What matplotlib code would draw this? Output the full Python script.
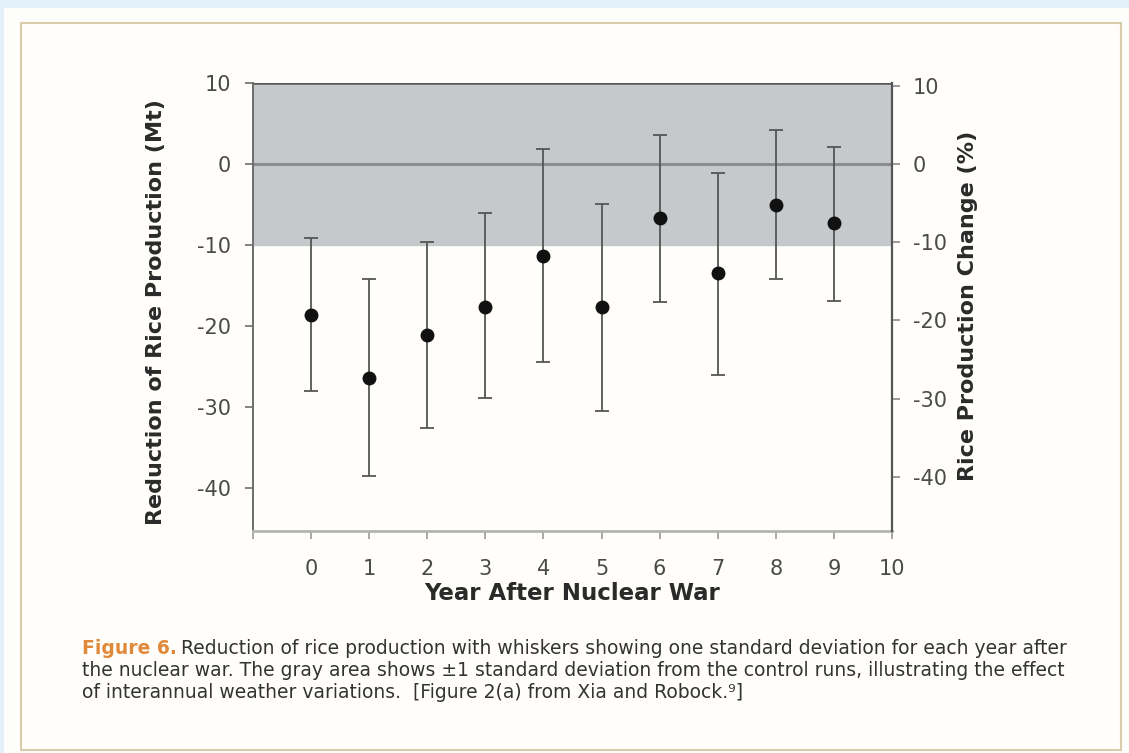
import matplotlib.pyplot as plt
from matplotlib.patches import Rectangle

# data (Mt)
years = [0, 1, 2, 3, 4, 5, 6, 7, 8, 9]
mean = [-18.6, -26.4, -21.1, -17.6, -11.3, -17.7, -6.7, -13.5, -5.1, -7.3]
upper = [-9.1, -14.2, -9.6, -6.1, 1.8, -4.9, 3.6, -1.1, 4.2, 2.1]
lower = [-28.0, -38.5, -32.6, -28.9, -24.4, -30.5, -17.0, -26.0, -14.2, -16.9]
band_low, band_high = -10, 10
left_ticks = [10, 0, -10, -20, -30, -40]
right_ticks = [10, 0, -10, -20, -30, -40]
x_ticks = [0, 1, 2, 3, 4, 5, 6, 7, 8, 9, 10]

caption_1 = ("Reduction of rice production with whiskers showing one standard "
             "deviation for each year after")
caption_2 = ("the nuclear war. The gray area shows \u00b11 standard deviation from "
             "the control runs, illustrating the effect")
caption_3 = "of interannual weather variations.  [Figure 2(a) from Xia and Robock.\u2079]"

plt.rcParams['font.family'] = ['DejaVu Sans']

W, H = 1129, 753
fig = plt.figure(figsize=(W / 100, H / 100), dpi=100)
fig.patch.set_facecolor('#e2f1f8')

# frame of the page
fig.patches.append(Rectangle((4 / W, 0), 1, 1 - 8 / H, transform=fig.transFigure,
                             facecolor='#fdfdfc', edgecolor='none', zorder=-10))
fig.patches.append(Rectangle((21 / W, 1 - 750 / H), (1121 - 21) / W, (750 - 23) / H,
                             transform=fig.transFigure, facecolor='#fffefa',
                             edgecolor='#d9cca8', linewidth=1.5, zorder=-9))

L, R, T, B = 253, 892, 83, 531
ax = fig.add_axes([L / W, 1 - B / H, (R - L) / W, (B - T) / H])
ax.set_facecolor('none')

ax.axhspan(band_low, band_high, color='#c6c9cc', zorder=0)
ax.axhline(0, color='#8c8c8c', linewidth=2.2, zorder=1)
ax.axhline(band_high, color='#555555', linewidth=1.8, zorder=2)

err_low = [m - l for m, l in zip(mean, lower)]
err_high = [u - m for m, u in zip(mean, upper)]
ax.errorbar(years, mean, yerr=[err_low, err_high], fmt='o', color='#111111',
            markersize=9, ecolor='#555555', elinewidth=1.3, capsize=5,
            capthick=1.3, zorder=3)

ax.set_xlim(-1, 10)
ax.set_ylim(-45.3, 10)
ax.set_xticks([-1] + x_ticks)
ax.set_xticklabels([''] + [str(t) for t in x_ticks])
ax.set_yticks(left_ticks)
ax.set_yticklabels([str(t) for t in left_ticks])

ax.spines['top'].set_visible(False)
ax.spines['left'].set_color('#6e6e6e')
ax.spines['left'].set_linewidth(1.4)
ax.spines['bottom'].set_color('#b4b4b4')
ax.spines['bottom'].set_linewidth(2)
ax.spines['right'].set_visible(False)
ax.tick_params(axis='y', direction='out', length=6, width=1.2, color='#6e6e6e',
               labelsize=15, labelcolor='#4a4a4a', pad=10)
ax.tick_params(axis='x', direction='out', length=6, width=1.2, color='#9a9a9a',
               labelsize=15, labelcolor='#4a4a4a', pad=14)

ax2 = ax.twinx()
ax2.set_ylim(-46.9, 10.35)
ax2.set_yticks(right_ticks)
ax2.set_yticklabels([str(t) for t in right_ticks])
for s in ['top', 'left', 'bottom']:
    ax2.spines[s].set_visible(False)
ax2.spines['right'].set_color('#555555')
ax2.spines['right'].set_linewidth(1.6)
ax2.tick_params(axis='y', direction='out', length=6, width=1.2, color='#8a8a8a',
                labelsize=15, labelcolor='#4a4a4a', pad=9)

fig.text(156 / W, 1 - 312 / H, 'Reduction of Rice Production (Mt)', rotation=90,
         ha='center', va='center', fontsize=16, fontweight='bold', color='#2a2a2a')
fig.text(968 / W, 1 - 306 / H, 'Rice Production Change (%)', rotation=90,
         ha='center', va='center', fontsize=16, fontweight='bold', color='#2a2a2a')
fig.text(572 / W, 1 - 594 / H, 'Year After Nuclear War', ha='center', va='center',
         fontsize=16.5, fontweight='bold', color='#2a2a2a')

cap_x = 82 / W
cap_size = 13.5
t = fig.text(cap_x, 1 - 648 / H, 'Figure 6.', ha='left', va='center',
             fontsize=cap_size, fontweight='bold', color='#e0893a')
fig.canvas.draw()
bb = t.get_window_extent()
fig.text(bb.x1 / W + 4 / W, 1 - 648 / H, caption_1, ha='left', va='center',
         fontsize=cap_size, color='#333333')
fig.text(cap_x, 1 - 670 / H, caption_2, ha='left', va='center', fontsize=cap_size,
         color='#333333')
fig.text(cap_x, 1 - 692 / H, caption_3, ha='left', va='center', fontsize=cap_size,
         color='#333333')

fig.savefig('out.png', dpi=100, facecolor=fig.get_facecolor())
